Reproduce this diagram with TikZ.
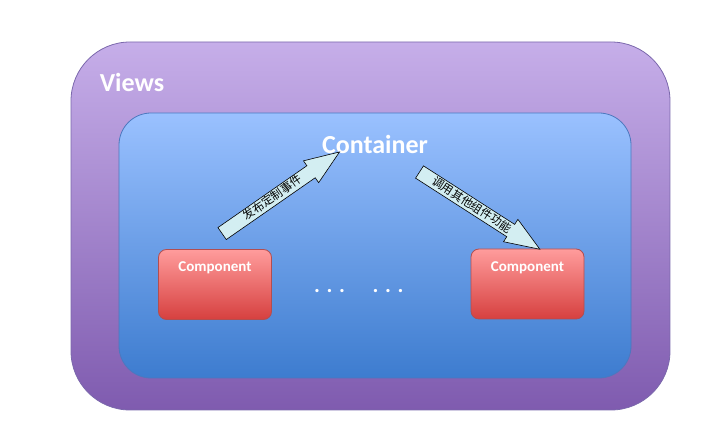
\documentclass[tikz,border=0pt]{standalone}
\usepackage{fontspec}
\setmainfont{Carlito}
\newfontfamily\cjk{Noto Sans CJK SC}
\usetikzlibrary{calc, positioning, shapes.arrows}

\definecolor{viewstop}{HTML}{C6AEE9}
\definecolor{viewsbot}{HTML}{7F5BAF}
\definecolor{viewsline}{HTML}{7B68AC}
\definecolor{conttop}{HTML}{9AC1FF}
\definecolor{contbot}{HTML}{3D7CCF}
\definecolor{contline}{HTML}{4C78BE}
\definecolor{comptop}{HTML}{FF9C9C}
\definecolor{compbot}{HTML}{D6403F}
\definecolor{compline}{HTML}{B24E50}
\definecolor{arrowfill}{HTML}{D3EEF2}

\tikzset{
    viewsbox/.style={draw=viewsline, line width=0.8pt, rounded corners=59pt,
        top color=viewstop, bottom color=viewsbot,
        minimum width=599pt, minimum height=368pt},
    contbox/.style={draw=contline, line width=0.8pt, rounded corners=32pt,
        top color=conttop, bottom color=contbot,
        minimum width=512pt, minimum height=265pt},
    compbox/.style={draw=compline, line width=0.8pt, rounded corners=8pt,
        top color=comptop, bottom color=compbot,
        minimum width=113pt, minimum height=70pt},
    title/.style={text=white, font=\fontsize{26}{30}\selectfont\bfseries},
    comptext/.style={text=white, font=\fontsize{15}{18}\selectfont\bfseries},
    dots/.style={text=white, font=\fontsize{22}{26}\selectfont\bfseries, anchor=base},
    blockarrow/.style={single arrow, draw=black, line width=0.6pt, fill=arrowfill,
        single arrow head extend=6pt, single arrow tip angle=42,
        minimum height=143pt, inner xsep=0pt, inner ysep=1pt,
        text height=9.5pt, text depth=2.5pt,
        font=\cjk\fontsize{11.5}{13}\selectfont}
}

\begin{document}
\begin{tikzpicture}[x=1pt, y=1pt]

    \useasboundingbox (0,0) rectangle (724,445);

    % outer and inner boxes
    \node[viewsbox] (views) at (370.5,219) {};
    \node[contbox] (cont) at (375,199.5) {};

    % labels
    \node[title] (viewslbl) at (132,363) {Views};
    \node[title] (contlbl) at (375,301) {Container};

    % components
    \node[compbox] (compL) at (215,160.5) {};
    \node[compbox] (compR) at (527.5,161) {};
    \node[comptext] (compLlbl) at ([yshift=-19]compL.north) {Component};
    \node[comptext] (compRlbl) at ([yshift=-19]compR.north) {Component};

    % dots between components
    \node[dots] (dotsA) at (329.5,152) {. . .};
    \node[dots] (dotsB) at (388,152) {. . .};

    % event arrows
    \node[blockarrow, rotate=34.8] (pub) at (273,246.8) {发布定制事件};
    \node[blockarrow, rotate=-32.7] (call) at (471.7,239.5) {调用其他组件功能};

\end{tikzpicture}
\end{document}
